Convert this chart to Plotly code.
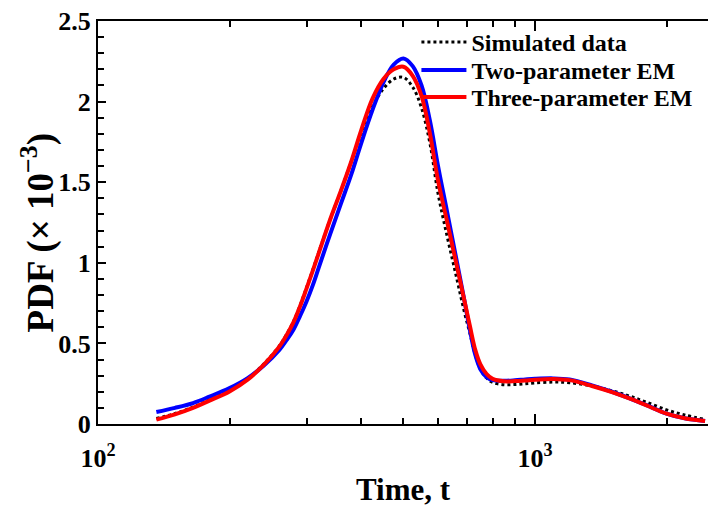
import plotly.graph_objects as go

# ---- data ----
t = [136, 150, 165, 180, 200, 220, 240, 260, 270, 280, 290, 300, 310, 320, 340,
     360, 380, 400, 425, 450, 475, 500, 525, 550, 575, 600, 630, 660, 690, 710,
     730, 750, 775, 800, 850, 900, 950, 1000, 1100, 1200, 1350, 1500, 1650, 1800,
     2000, 2200, 2450]

simulated = [0.035, 0.065, 0.105, 0.15, 0.205, 0.28, 0.375, 0.485, 0.555, 0.635,
             0.735, 0.845, 0.955, 1.065, 1.27, 1.45, 1.63, 1.80, 1.97, 2.08, 2.14,
             2.15, 2.09, 1.96, 1.74, 1.43, 1.16, 0.92, 0.69, 0.56, 0.43, 0.34,
             0.285, 0.258, 0.244, 0.245, 0.25, 0.255, 0.26, 0.256, 0.236, 0.206,
             0.172, 0.135, 0.088, 0.056, 0.028]

two_param = [0.074, 0.10, 0.13, 0.17, 0.223, 0.285, 0.365, 0.46, 0.52, 0.585,
             0.67, 0.76, 0.86, 0.97, 1.18, 1.37, 1.55, 1.74, 1.95, 2.12, 2.23,
             2.268, 2.22, 2.10, 1.88, 1.60, 1.31, 1.03, 0.76, 0.58, 0.43, 0.34,
             0.29, 0.272, 0.268, 0.271, 0.276, 0.28, 0.283, 0.276, 0.24, 0.20,
             0.158, 0.117, 0.064, 0.036, 0.019]

three_param = [0.027, 0.06, 0.10, 0.145, 0.202, 0.275, 0.37, 0.48, 0.55, 0.63,
               0.73, 0.84, 0.95, 1.06, 1.27, 1.45, 1.63, 1.82, 2.02, 2.14, 2.20,
               2.216, 2.16, 2.035, 1.80, 1.51, 1.25, 1.00, 0.76, 0.605, 0.46, 0.37,
               0.31, 0.28, 0.265, 0.266, 0.27, 0.275, 0.279, 0.272, 0.236, 0.198,
               0.157, 0.115, 0.064, 0.036, 0.019]

x_tickvals = [100, 1000]
x_ticktext = ["10<sup>2</sup>", "10<sup>3</sup>"]
x_minorvals = [200, 300, 400, 500, 600, 700, 800, 900, 2000]
y_tickvals = [0, 0.5, 1, 1.5, 2, 2.5]
y_ticktext = ["0", "0.5", "1", "1.5", "2", "2.5"]
y_title = "PDF (× 10<sup>−3</sup>)"
x_title = "Time, t"

FONT = dict(family="Liberation Serif", size=24, color="black", weight="bold")
TICK_FONT = dict(family="Liberation Serif", size=26, color="black", weight="bold")
TITLE_FONT = dict(family="Liberation Serif", size=31, color="black", weight="bold")
YTITLE_FONT = dict(family="Liberation Serif", size=37, color="black", weight="bold")

fig = go.Figure()
fig.add_trace(go.Scatter(x=t, y=simulated, mode="lines", name="Simulated data",
                         legend="legend",
                         line=dict(color="black", width=3, dash="dot", shape="spline")))
fig.add_trace(go.Scatter(x=t, y=two_param, mode="lines", name="Two-parameter EM",
                         legend="legend2",
                         line=dict(color="#0000ff", width=4, shape="spline")))
fig.add_trace(go.Scatter(x=t, y=three_param, mode="lines", name="Three-parameter EM",
                         legend="legend3",
                         line=dict(color="#ff0000", width=4, shape="spline")))

leg = dict(x=0.522, xanchor="left", yanchor="top", bgcolor="rgba(0,0,0,0)",
           font=FONT, itemwidth=45)

fig.update_layout(
    width=708, height=512,
    margin=dict(l=98, r=0, t=21, b=88),
    paper_bgcolor="white", plot_bgcolor="white",
    font=FONT,
    showlegend=True,
    legend=dict(leg, y=1.0025),
    legend2=dict(leg, y=0.933),
    legend3=dict(leg, y=0.866),
    xaxis=dict(type="log", range=[2, 2 + 610 / 437],
               showline=True, linecolor="black", linewidth=2, mirror="ticks",
               ticks="inside", ticklen=10, tickwidth=2, tickcolor="black",
               tickmode="array", tickvals=x_tickvals, ticktext=x_ticktext,
               tickfont=TICK_FONT, ticklabelstandoff=10,
               minor=dict(ticks="inside", ticklen=6, tickwidth=2, tickcolor="black",
                          tickmode="array", tickvals=x_minorvals, showgrid=False),
               showgrid=False, zeroline=False,
               title=dict(text=x_title, font=TITLE_FONT, standoff=6)),
    yaxis=dict(range=[0, 2.5],
               showline=True, linecolor="black", linewidth=2, mirror=False,
               ticks="inside", ticklen=8, tickwidth=2, tickcolor="black",
               tickmode="array", tickvals=y_tickvals, ticktext=y_ticktext,
               tickfont=TICK_FONT,
               minor=dict(ticks="inside", ticklen=6, tickwidth=2, tickcolor="black",
                          dtick=0.1, showgrid=False),
               showgrid=False, zeroline=False),
    annotations=[dict(text=y_title, textangle=-90, showarrow=False,
                      xref="paper", yref="paper", x=-0.098, y=0.476,
                      xanchor="center", yanchor="middle", font=YTITLE_FONT)],
)

fig.write_html("out.html")
